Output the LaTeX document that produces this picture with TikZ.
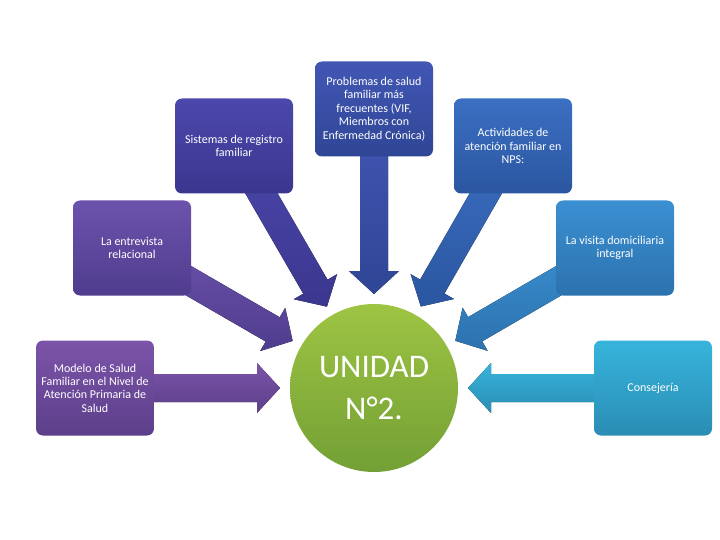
\documentclass[tikz,border=0pt]{standalone}
\usepackage{fontspec}
\setmainfont{Carlito}
\usetikzlibrary{calc,backgrounds}
\definecolor{c1t}{HTML}{7C54A9}\definecolor{c1b}{HTML}{5C3F8A}
\definecolor{c2t}{HTML}{6C52AC}\definecolor{c2b}{HTML}{4F3D8E}
\definecolor{c3t}{HTML}{4C48AC}\definecolor{c3b}{HTML}{3B368E}
\definecolor{c4t}{HTML}{4257B4}\definecolor{c4b}{HTML}{2F4696}
\definecolor{c5t}{HTML}{3B6FC2}\definecolor{c5b}{HTML}{2B56A0}
\definecolor{c6t}{HTML}{3B90D2}\definecolor{c6b}{HTML}{2C72AE}
\definecolor{c7t}{HTML}{37B4DC}\definecolor{c7b}{HTML}{2A8DB4}
\definecolor{cct}{HTML}{9EC443}\definecolor{ccb}{HTML}{73A035}
\tikzset{
  box/.style={rounded corners=7pt, minimum width=118pt, minimum height=95pt,
    align=center, text=white, inner sep=3pt,
    font=\fontsize{12}{13.4}\selectfont},
  hub/.style={circle, minimum size=168pt, inner sep=0pt, align=center, text=white,
    top color=cct, bottom color=ccb, font=\fontsize{33}{42}\selectfont}
}
\newcommand\radarrow[3]{%
  \coordinate (T) at ($(C)!94pt!(#1.center)$);
  \coordinate (H) at ($(T)!23pt!(#1.center)$);
  \fill[top color=#2, bottom color=#3]
    ($(#1.center)!14pt!90:(T)$) -- ($(H)!14pt!90:(T)$) -- ($(H)!25pt!90:(T)$)
    -- (T) -- ($(H)!25pt!-90:(T)$) -- ($(H)!14pt!-90:(T)$)
    -- ($(#1.center)!14pt!-90:(T)$) -- cycle;
}
\begin{document}
\begin{tikzpicture}[x=1pt,y=-1pt]
\useasboundingbox (0,0) rectangle (720,540);
\coordinate (C) at (374,388);
\node[hub] (hub) at (C) {UNIDAD\\N°2.};
\node[box, top color=c1t, bottom color=c1b] (b1) at (95,388) {Modelo de Salud\\Familiar en el Nivel de\\Atención Primaria de\\Salud};
\node[box, top color=c2t, bottom color=c2b] (b2) at (132,248) {La entrevista\\relacional};
\node[box, top color=c3t, bottom color=c3b] (b3) at (234,146) {Sistemas de registro\\familiar};
\node[box, top color=c4t, bottom color=c4b] (b4) at (374,109) {Problemas de salud\\familiar más\\frecuentes (VIF,\\Miembros con\\Enfermedad Crónica)};
\node[box, top color=c5t, bottom color=c5b] (b5) at (513,146) {Actividades de\\atención familiar en\\NPS:};
\node[box, top color=c6t, bottom color=c6b] (b6) at (615,248) {La visita domiciliaria\\integral};
\node[box, top color=c7t, bottom color=c7b] (b7) at (653,388) {Consejería};
\begin{pgfonlayer}{background}
\radarrow{b1}{c1t}{c1b}
\radarrow{b2}{c2t}{c2b}
\radarrow{b3}{c3t}{c3b}
\radarrow{b4}{c4t}{c4b}
\radarrow{b5}{c5t}{c5b}
\radarrow{b6}{c6t}{c6b}
\radarrow{b7}{c7t}{c7b}
\end{pgfonlayer}
\end{tikzpicture}
\end{document}
